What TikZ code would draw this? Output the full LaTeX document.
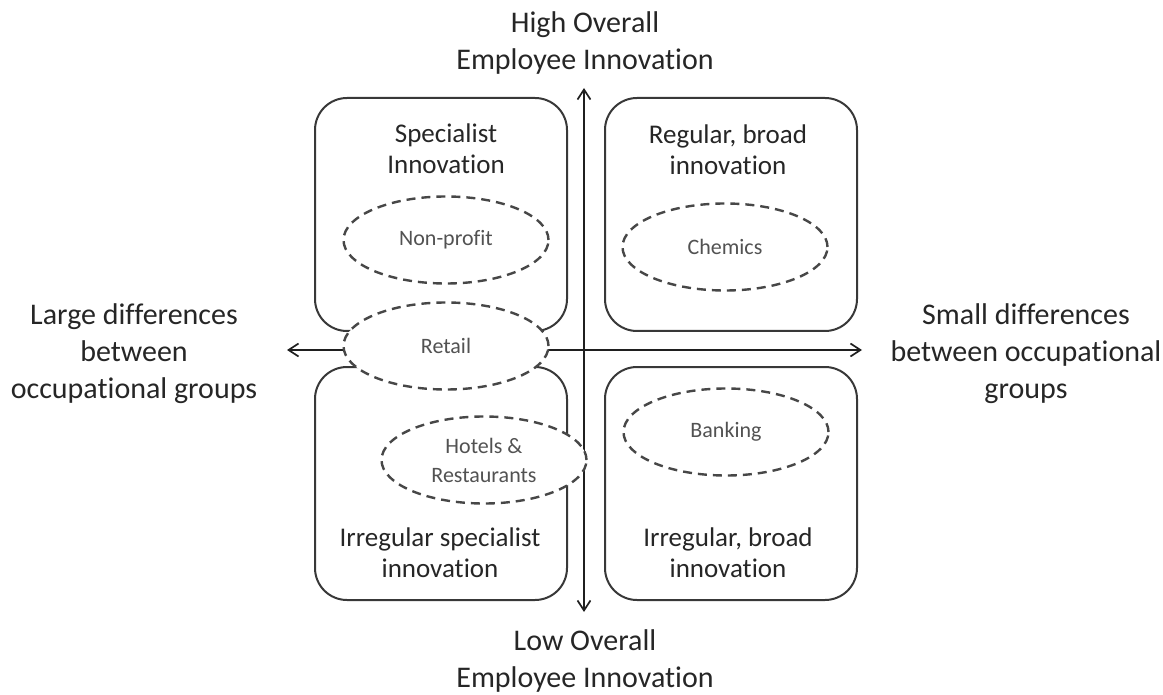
\documentclass[tikz,border=0pt]{standalone}
\usepackage{fontspec}
\setmainfont{Carlito}[Ligatures=NoCommon]
\usetikzlibrary{shapes.geometric,arrows.meta}
\begin{document}
\begin{tikzpicture}[x=1pt,y=-1pt,
  quad/.style={draw=black!78, line width=2pt, rounded corners=32pt, minimum width=252pt, minimum height=233pt, inner sep=0pt, outer sep=0pt},
  grp/.style={ellipse, draw=black!72, fill=white, dash pattern=on 9pt off 6pt, line width=2.4pt, minimum width=205pt, minimum height=87pt, inner sep=0pt, text=black!68, font=\fontsize{22}{29}\selectfont, align=center},
  qlabel/.style={text=black!85, font=\fontsize{27}{31}\selectfont, align=center, inner sep=0pt},
  axlabel/.style={text=black!85, font=\fontsize{30}{37}\selectfont, align=center, inner sep=0pt},
  axisline/.style={draw=black!88, line width=1.7pt, {Straight Barb[length=10pt,width=13pt]}-{Straight Barb[length=10pt,width=13pt]}}
]
\useasboundingbox (0,0) rectangle (1163,695);
% quadrant boxes
\node[quad] (tl) at (441,214.5) {};
\node[quad] (tr) at (731,214.5) {};
\node[quad] (bl) at (441,483.5) {};
\node[quad] (br) at (731,483.5) {};
% axes
\coordinate (vt) at (584,88);
\coordinate (vb) at (584,612);
\coordinate (hl) at (287,350);
\coordinate (hr) at (862,350);
\draw[axisline] (vb) -- (vt);
\draw[axisline] (hl) -- (hr);
% sector ellipses
\node[grp] (nonprofit) at (446,240) {Non-profit};
\node[grp] (chemics) at (725,247) {Chemics};
\node[grp] (retail) at (446,346) {Retail};
\node[grp] (hotels) at (484,460) {Hotels \&\\Restaurants};
\node[grp] (banking) at (726,432) {Banking};
% quadrant labels
\node[qlabel] (tllab) at (446,149) {Specialist\\Innovation};
\node[qlabel] (trlab) at (728,150) {Regular, broad\\innovation};
\node[qlabel] (bllab) at (440,553) {Irregular specialist\\innovation};
\node[qlabel] (brlab) at (728,553) {Irregular, broad\\innovation};
% axis labels
\node[axlabel] (high) at (585,43) {High Overall\\Employee Innovation};
\node[axlabel] (low) at (585,661) {Low Overall\\Employee Innovation};
\node[axlabel] (large) at (134,354) {Large differences\\between\\occupational groups};
\node[axlabel] (small) at (1026,354) {Small differences\\between occupational\\groups};
\end{tikzpicture}
\end{document}
